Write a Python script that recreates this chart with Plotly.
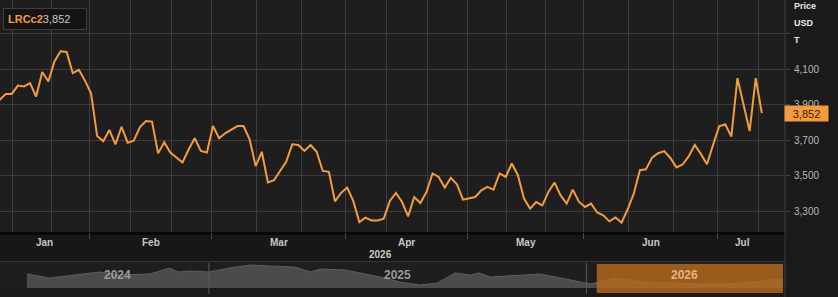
import plotly.graph_objects as go

# ---------------- data ----------------
ric = "LRCc2"
last_price = 3852

month_names = ["Jan", "Feb", "Mar", "Apr", "May", "Jun", "Jul"]
month_days = [19, 20, 22, 20, 19, 22, 8]      # trading days shown per month (2026)
year_label = "2026"

first_idx = 4                                  # first trading-day index shown
prices = [
    3926, 3959, 3960, 4007, 4002, 4021, 3945, 4083, 4030, 4143, 4200, 4196, 4077, 4096, 4035,  # Jan
    3964, 3723, 3694, 3757, 3676, 3775, 3685, 3696, 3772, 3807, 3804, 3625, 3687, 3630, 3602,
    3574, 3647, 3710, 3639, 3630,                                                              # Feb
    3779, 3710, 3738, 3757, 3779, 3779, 3704, 3553, 3634, 3461, 3474, 3526, 3577, 3676, 3672,
    3639, 3672, 3634, 3526, 3521, 3355, 3402,                                                  # Mar
    3432, 3357, 3238, 3263, 3247, 3247, 3257, 3357, 3402, 3351, 3270, 3379, 3345, 3407, 3512,
    3492, 3432, 3487, 3451, 3364,                                                              # Apr
    3370, 3379, 3417, 3436, 3421, 3512, 3492, 3568, 3502, 3370, 3314, 3351, 3332, 3407, 3461,
    3388, 3342, 3421, 3353,                                                                    # May
    3323, 3342, 3292, 3276, 3242, 3264, 3235, 3310, 3398, 3530, 3535, 3601, 3626, 3638, 3599,
    3546, 3562, 3608, 3672, 3622, 3564, 3672,                                                  # Jun
    3777, 3789, 3719, 4049, 3898, 3751, 4049, 3852,                                            # Jul
]

y_ticks = [3300, 3500, 3700, 3900, 4100, 4300]
y_tick_text = ["3,300", "3,500", "3,700", "3,900", "4,100", ""]

# navigator (multi-year overview)
nav_dates = [
    "2024-07-09", "2024-07-31", "2024-08-24", "2024-09-17", "2024-10-07", "2024-11-05",
    "2024-11-24", "2024-12-02", "2024-12-14", "2025-01-01", "2025-01-21", "2025-02-10",
    "2025-03-01", "2025-03-25", "2025-04-09", "2025-04-19", "2025-05-13", "2025-06-01",
    "2025-06-20", "2025-07-05", "2025-07-24", "2025-08-10", "2025-08-27", "2025-09-11",
    "2025-09-19", "2025-09-30", "2025-10-15", "2025-10-29", "2025-11-17", "2025-12-07",
    "2025-12-21", "2026-01-05", "2026-01-19", "2026-01-29", "2026-02-22", "2026-03-23",
    "2026-04-21", "2026-05-20", "2026-06-18", "2026-07-10",
]
nav_prices = [
    4504, 4060, 4393, 4726, 4393, 4504, 5170, 4726, 4837, 4726, 5170, 5503,
    5392, 5281, 4726, 5059, 4948, 4504, 4060, 3616, 3283, 3505, 4615, 4393,
    4615, 4171, 4282, 4393, 4504, 4060, 3727, 3394, 3727, 4060, 3616, 3505,
    3394, 3394, 3727, 3949,
]
nav_years = ["2024", "2025", "2026"]
nav_year_centers = ["2024-10-05", "2025-07-02", "2026-04-06"]
nav_year_breaks = ["2025-01-01", "2026-01-01"]
nav_window = ["2026-01-11", "2026-07-10"]

# ---------------- geometry helpers ----------------
W, H = 838, 297
PLOT_R = 785          # right edge of plot area (px)
PLOT_B = 232          # bottom of price plot (px)


def py(p):
    return (H - p) / H


def pxx(p):
    return p / PLOT_R


ORANGE = "#f39c3f"
GRID = "#3d3d3d"

x_idx = list(range(first_idx, first_idx + len(prices)))

starts = []
s = 0
for d in month_days:
    starts.append(s)
    s += d
bounds = [st - 0.2 for st in starts]
x0_view = 4.07
x1_view = 132.8
last_idx = x_idx[-1]

minor_grid = []
for k, b in enumerate(bounds):
    span = month_days[k] if k < len(bounds) - 1 else 20
    for f in (1, 2):
        if k == 0:
            v = b + span * f / 3
        else:
            v = b + span * f / 3
        if x0_view < v < x1_view and (k == len(bounds) - 1 or v < bounds[k + 1] - 1):
            minor_grid.append(v)
major_ticks = [b for b in bounds if x0_view < b < x1_view]

fig = go.Figure()

fig.add_trace(go.Scatter(
    x=x_idx, y=prices, mode="lines",
    line=dict(color=ORANGE, width=2),
    xaxis="x", yaxis="y", hoverinfo="skip", showlegend=False,
))

fig.add_trace(go.Scatter(
    x=nav_dates, y=nav_prices, mode="lines", fill="tozeroy",
    line=dict(color="#5e5e5e", width=1), fillcolor="#4b4b4b",
    xaxis="x2", yaxis="y2", hoverinfo="skip", showlegend=False,
))

annotations = []
# month labels
for k, name in enumerate(month_names):
    a = max(bounds[k], x0_view)
    b = bounds[k + 1] if k + 1 < len(bounds) else starts[k] + month_days[k] - 0.2
    annotations.append(dict(
        x=(a + b) / 2, y=py(242), xref="x", yref="paper", text="<b>%s</b>" % name,
        showarrow=False, font=dict(family="Liberation Sans, Arial", size=10, color="#c8c8c8"),
        xanchor="center", yanchor="middle",
    ))
annotations.append(dict(
    x=(x0_view + last_idx) / 2, y=py(254), xref="x", yref="paper", text="<b>%s</b>" % year_label,
    showarrow=False, font=dict(family="Liberation Sans, Arial", size=10, color="#c8c8c8"),
    xanchor="center", yanchor="middle",
))
# navigator year labels
for yl, yc in zip(nav_years, nav_year_centers):
    col = "#e2b47e" if yl == "2026" else "#9a9a9a"
    annotations.append(dict(
        x=yc, y=py(275), xref="x2", yref="paper", text="<b>%s</b>" % yl,
        showarrow=False, font=dict(family="Liberation Sans, Arial", size=12, color=col),
        xanchor="center", yanchor="middle",
    ))
# right axis header
for txt, yy in (("Price", 6), ("USD", 23), ("T", 40)):
    annotations.append(dict(
        x=pxx(792), y=py(yy), xref="paper", yref="paper", text="<b>%s</b>" % txt,
        showarrow=False, font=dict(family="Liberation Sans, Arial", size=9, color="#e8e8e8"),
        xanchor="left", yanchor="middle",
    ))
# last price tag
annotations.append(dict(
    x=pxx(784), y=last_price, xref="paper", yref="y",
    text="{:,}".format(last_price), showarrow=False,
    font=dict(family="Liberation Sans, Arial", size=11, color="#4a1800"),
    bgcolor=ORANGE, width=41, height=13, borderpad=1, align="center",
    xanchor="left", yanchor="middle",
))
# top-left legend box
annotations.append(dict(
    x=pxx(3), y=py(8), xref="paper", yref="paper",
    text="<span style='color:%s'><b>%s</b></span><span style='color:#c8c8c8'>%s</span>"
         % (ORANGE, ric, "{:,}".format(last_price)),
    showarrow=False, font=dict(family="Liberation Sans, Arial", size=11),
    bgcolor="#141414", bordercolor="#3c3c3c", borderwidth=1, borderpad=4,
    width=74, align="left", xanchor="left", yanchor="top",
))

shapes = [
    # label row background
    dict(type="rect", xref="paper", yref="paper", x0=0, x1=1, y0=py(262), y1=py(PLOT_B),
         fillcolor="#171717", line=dict(width=0), layer="below"),
    dict(type="line", xref="paper", yref="paper", x0=0, x1=1, y0=py(233.5), y1=py(233.5),
         line=dict(color="#080808", width=3), layer="below"),
    dict(type="line", xref="paper", yref="paper", x0=0, x1=1, y0=py(261.5), y1=py(261.5),
         line=dict(color="#343434", width=1), layer="below"),
    # right border of plot area
    dict(type="line", xref="paper", yref="paper", x0=1, x1=1, y0=0, y1=1,
         line=dict(color="#3a3a3a", width=1), layer="below"),
]
for d in nav_year_breaks:
    shapes.append(dict(type="line", xref="x2", yref="paper", x0=d, x1=d, y0=py(294), y1=py(263),
                       line=dict(color="#5a5a5a", width=1), layer="above"))
shapes.append(dict(type="rect", xref="x2", yref="paper", x0=nav_window[0], x1=nav_window[1],
                   y0=py(293), y1=py(264), fillcolor="rgba(190,110,30,0.78)",
                   line=dict(width=0), layer="above"))

fig.update_layout(
    width=W, height=H,
    margin=dict(l=0, r=W - PLOT_R, t=0, b=0, pad=0),
    paper_bgcolor="#1a1a1a", plot_bgcolor="#1e1e1e",
    showlegend=False,
    xaxis=dict(
        domain=[0, 1], range=[x0_view, x1_view], anchor="y",
        tickmode="array", tickvals=major_ticks, ticktext=[""] * len(major_ticks),
        ticks="outside", ticklen=6, tickcolor="#4a4a4a", tickwidth=1,
        showgrid=True, gridcolor=GRID, gridwidth=1, zeroline=False, showline=False,
        minor=dict(tickmode="array", tickvals=minor_grid, showgrid=True,
                   gridcolor=GRID, gridwidth=1, ticks=""),
        fixedrange=True,
    ),
    yaxis=dict(
        domain=[py(PLOT_B), 1], range=[3182, 4489], side="right", anchor="x",
        tickmode="array", tickvals=y_ticks, ticktext=y_tick_text,
        ticks="outside", ticklen=4, tickcolor="#444444",
        showgrid=True, gridcolor=GRID, gridwidth=1, zeroline=False, showline=False,
        tickfont=dict(family="Liberation Sans, Arial", size=10, color="#b8b8b8"),
        ticklabelstandoff=2,
        fixedrange=True,
    ),
    xaxis2=dict(
        domain=[0, 1], range=["2024-06-13", "2026-07-12"], type="date", anchor="y2",
        visible=False, showgrid=False, fixedrange=True,
    ),
    yaxis2=dict(
        domain=[py(288), py(262)], range=[2950, 5836], anchor="x2",
        visible=False, showgrid=False, fixedrange=True,
    ),
    annotations=annotations,
    shapes=shapes,
)

fig.write_html("out.html")
